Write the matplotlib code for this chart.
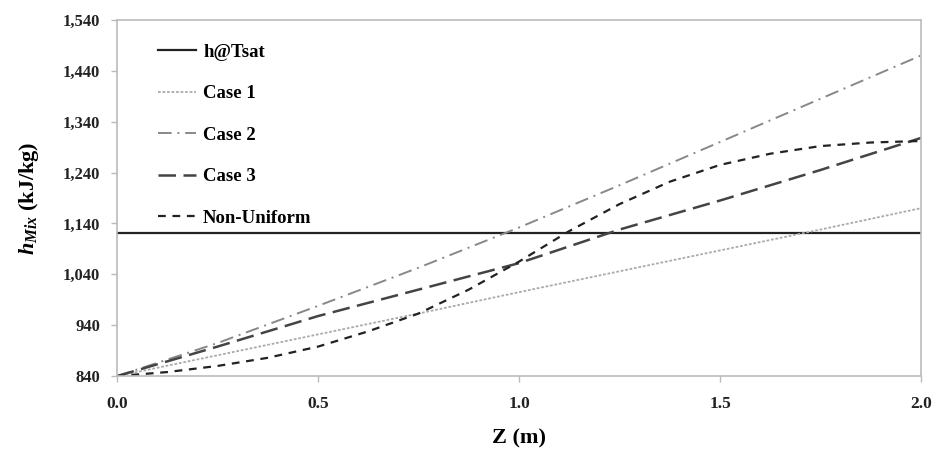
import matplotlib
matplotlib.use('Agg')
import matplotlib.pyplot as plt
from matplotlib.ticker import FuncFormatter, MultipleLocator, FixedLocator

# Данные
z = [0.0, 0.25, 0.5, 0.75, 1.0, 1.25, 1.5, 1.75, 2.0]
case1 = [840, 881, 922, 963, 1005, 1046, 1087, 1128, 1170]
case2 = [840, 905, 978, 1053, 1132, 1215, 1300, 1385, 1470]
case3 = [840, 898, 958, 1010, 1062, 1128, 1185, 1245, 1308]

z_nu = [0.0, 0.125, 0.25, 0.375, 0.5, 0.625, 0.75, 0.875, 1.0,
        1.125, 1.25, 1.375, 1.5, 1.625, 1.75, 1.875, 2.0]
non_uniform = [840, 848, 860, 876, 898, 928, 963, 1010, 1065,
               1125, 1178, 1222, 1255, 1277, 1292, 1299, 1302]

h_sat = 1122

y_ticks = [840, 940, 1040, 1140, 1240, 1340, 1440, 1540]

plt.rcParams['font.family'] = 'Liberation Serif'
plt.rcParams['font.weight'] = 'bold'
plt.rcParams['mathtext.fontset'] = 'custom'
plt.rcParams['mathtext.rm'] = 'Liberation Serif:bold'
plt.rcParams['mathtext.it'] = 'Liberation Serif:italic:bold'

fig = plt.figure(figsize=(9.36, 4.51), dpi=100)
ax = fig.add_axes([0.125, 0.166, 0.859, 0.790])

ax.axhline(h_sat, color='#222222', linewidth=1.6, label='h@Tsat')
ax.plot(z, case1, color='#aaaaaa', linestyle=(0, (1.5, 1.0)), linewidth=1.3, label='Case 1')
ax.plot(z, case2, color='#888888', linestyle=(0, (7, 3, 1, 3)), linewidth=1.4, label='Case 2')
ax.plot(z, case3, color='#444444', linestyle=(0, (7, 3)), linewidth=1.8, label='Case 3')
ax.plot(z_nu, non_uniform, color='#222222', linestyle=(0, (3.5, 3)), linewidth=1.6, label='Non-Uniform')

ax.set_xlim(0, 2.0)
ax.set_ylim(840, 1540)
ax.xaxis.set_major_locator(MultipleLocator(0.5))
ax.yaxis.set_major_locator(FixedLocator(y_ticks))
ax.xaxis.set_major_formatter(FuncFormatter(lambda v, p: f'{v:.1f}'))
ax.yaxis.set_major_formatter(FuncFormatter(lambda v, p: f'{int(round(v)):,}'))

for s in ax.spines.values():
    s.set_color('#bbbbbb')
    s.set_linewidth(1.2)
ax.tick_params(axis='both', colors='#bbbbbb', length=4, width=1, direction='out')
ax.tick_params(axis='x', labelsize=12.5, labelcolor='#222222', pad=10)
ax.tick_params(axis='y', labelsize=12, labelcolor='#222222', pad=8)

ax.set_xlabel('Z (m)', fontsize=16, fontweight='bold', labelpad=12)
ax.set_ylabel(r'$h_{Mix}$ (kJ/kg)', fontsize=16, fontweight='bold', labelpad=16)

ax.legend(loc='upper left', bbox_to_anchor=(0.051, 0.933), frameon=False,
          fontsize=13.5, handlelength=2.0, handletextpad=0.4, labelspacing=1.3,
          borderaxespad=0, borderpad=0)

fig.savefig('out.png', dpi=100)
